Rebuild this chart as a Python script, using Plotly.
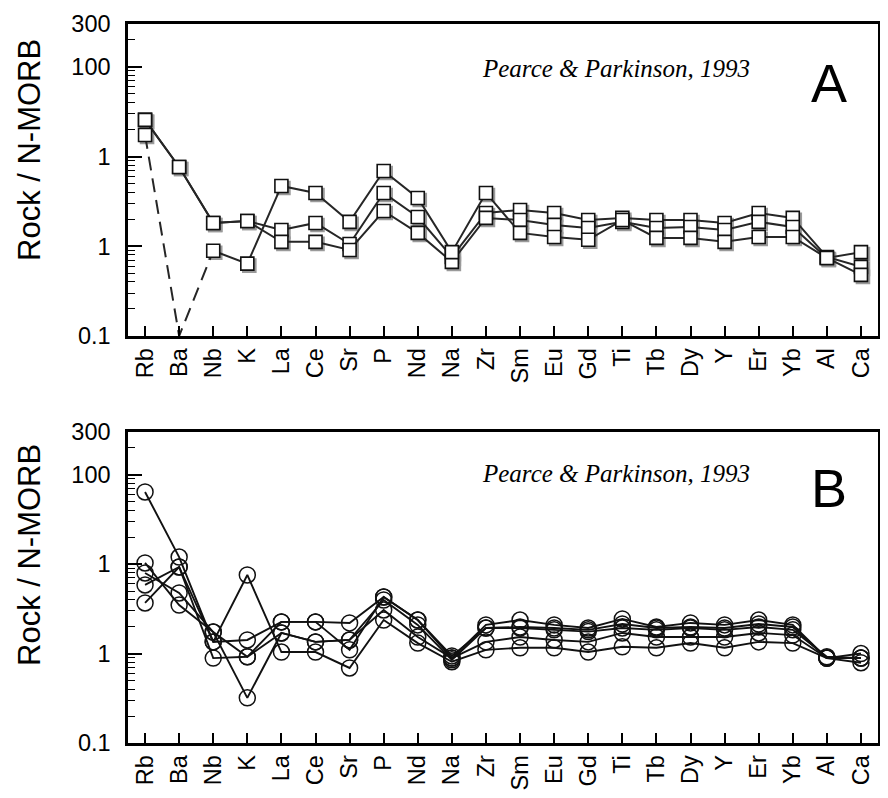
import plotly.graph_objects as go

# ---------------- data ----------------
elements = ["Rb", "Ba", "Nb", "K", "La", "Ce", "Sr", "P", "Nd", "Na", "Zr",
            "Sm", "Eu", "Gd", "Ti", "Tb", "Dy", "Y", "Er", "Yb", "Al", "Ca"]

# Panel A (squares)
a_s1 = [25.6, 7.65, 1.82, 1.91, 1.52, 1.82, 1.06, 3.93, 2.12, 0.76, 2.35,
        2.54, 2.35, 1.96, 2.07, 1.96, 1.96, 1.82, 2.35, 2.07, 0.76, 0.59]
a_s2 = [17.4, 0.1, 0.89, 0.64, 4.70, 3.93, 1.87, 6.90, 3.45, 0.86, 3.93,
        1.41, 1.27, 1.18, 1.96, 1.24, 1.24, 1.12, 1.27, 1.27, 0.74, 0.86]
a_s3 = [25.6, 7.65, 1.82, 1.91, 1.12, 1.12, 0.91, 2.47, 1.41, 0.67, 2.07,
        1.96, 1.73, 1.60, 1.87, 1.60, 1.64, 1.52, 1.87, 1.64, 0.74, 0.48]

# Panel B (circles)
b_s1 = [64.1, 12.0, 1.35, 1.42, 2.26, 2.26, 2.20, 4.29, 2.37, 0.89, 2.09,
        2.37, 2.09, 1.93, 2.44, 1.98, 2.20, 2.09, 2.37, 2.09, 0.89, 1.00]
b_s2 = [10.3, 3.49, 1.74, 0.32, 1.70, 1.35, 1.42, 3.97, 2.09, 0.85, 1.93,
        1.98, 1.93, 1.84, 2.14, 1.93, 1.98, 1.93, 2.14, 1.98, 0.89, 0.89]
b_s3 = [5.85, 9.29, 1.35, 7.56, 1.04, 1.04, 0.69, 2.37, 1.31, 0.81, 1.10,
        1.16, 1.16, 1.04, 1.19, 1.16, 1.31, 1.16, 1.35, 1.31, 0.89, 0.79]
b_s4 = [3.68, 9.29, 0.89, 0.92, 2.26, 2.26, 1.10, 4.29, 2.37, 0.94, 1.93,
        1.93, 1.84, 1.76, 1.93, 1.84, 1.93, 1.84, 1.98, 1.84, 0.92, 0.89]
b_s5 = [7.96, 4.76, 1.74, 0.92, 1.70, 1.35, 1.42, 3.07, 1.53, 0.89, 1.35,
        1.53, 1.42, 1.35, 1.70, 1.53, 1.53, 1.53, 1.70, 1.61, 0.89, 0.89]

y_tickvals = [0.1, 1, 10, 100, 300]
y_ticktext = ["0.1", "1", "1", "100", "300"]
y_minor = [0.2, 0.3, 0.4, 0.5, 0.6, 0.7, 0.8, 0.9,
           2, 3, 4, 5, 6, 7, 8, 9,
           20, 30, 40, 50, 60, 70, 80, 90, 200]

y_title = "Rock / N-MORB"
source = "Pearce & Parkinson, 1993"

# ---------------- figure ----------------
W, H = 888, 798
OFF = 8  # page body margin in the browser


def px(x):
    return (x - OFF) / W


def py(y):
    return 1 - (y - OFF) / H


fig = go.Figure()

line_a = dict(color="#262626", width=2)
mk_a = dict(symbol="square", size=13, color="white",
            line=dict(color="#111111", width=1.6))
mk_shadow = dict(symbol="square", size=13, color="#9a9a9a",
                 line=dict(color="#9a9a9a", width=1.6))
mk_b = dict(symbol="circle-open", size=16, color="#111111",
            line=dict(color="#111111", width=1.5))

# --- shadow layer for panel A squares (subplot x/y, drawn first) ---
for s in (a_s1, a_s3):
    fig.add_trace(go.Scatter(x=elements, y=s, mode="markers",
                             marker=mk_shadow, xaxis="x", yaxis="y",
                             showlegend=False, cliponaxis=False,
                             hoverinfo="skip"))
fig.add_trace(go.Scatter(x=elements[:1] + elements[2:],
                         y=a_s2[:1] + a_s2[2:], mode="markers",
                         marker=mk_shadow, xaxis="x", yaxis="y",
                         showlegend=False, cliponaxis=False,
                         hoverinfo="skip"))

# --- panel A main (subplot x2/y2) ---
for s in (a_s1, a_s3):
    fig.add_trace(go.Scatter(x=elements, y=s, mode="lines+markers",
                             line=line_a, marker=mk_a, xaxis="x2", yaxis="y2",
                             showlegend=False, cliponaxis=False))
fig.add_trace(go.Scatter(x=elements[:3], y=a_s2[:3], mode="lines",
                         line=dict(color="#262626", width=2,
                                   dash="14px,8px"),
                         xaxis="x2", yaxis="y2", showlegend=False))
fig.add_trace(go.Scatter(x=elements[2:], y=a_s2[2:], mode="lines+markers",
                         line=line_a, marker=mk_a, xaxis="x2", yaxis="y2",
                         showlegend=False, cliponaxis=False))
fig.add_trace(go.Scatter(x=elements[:1], y=a_s2[:1], mode="markers",
                         marker=mk_a, xaxis="x2", yaxis="y2",
                         showlegend=False, cliponaxis=False))

# --- panel B (subplot x3/y3) ---
for s in (b_s1, b_s2, b_s3, b_s4, b_s5):
    fig.add_trace(go.Scatter(x=elements, y=s, mode="lines+markers",
                             line=dict(color="#111111", width=1.9),
                             marker=mk_b, xaxis="x3", yaxis="y3",
                             showlegend=False, cliponaxis=False))

xdom = [px(128), px(878)]
yA = [py(336), py(24)]
yB = [py(743), py(432)]
sh = 2.0  # shadow offset in px
xdom_sh = [px(128 + sh), px(878 + sh)]
yA_sh = [py(336 + sh), py(24 + sh)]

tickfont = dict(family="Liberation Sans, Arial, Helvetica, sans-serif",
                size=23.5, color="black")


def xaxis(anchor, dom=xdom, visible=True):
    d = dict(domain=dom, anchor=anchor, type="category",
             categoryorder="array", categoryarray=elements,
             range=[-0.5, len(elements) - 0.5], automargin=False,
             showgrid=False, zeroline=False)
    if visible:
        d.update(showline=True, mirror=True, linecolor="black", linewidth=2.5,
                 ticks="inside", ticklen=10, tickwidth=1.5,
                 tickcolor="black", tickangle=-90, tickfont=tickfont)
    else:
        d.update(visible=False)
    return d


def yaxis(dom, anchor, visible=True):
    d = dict(domain=dom, anchor=anchor, type="log",
             range=[-1, 2.4771], automargin=False,
             showgrid=False, zeroline=False)
    if visible:
        d.update(tickmode="array", tickvals=y_tickvals, ticktext=y_ticktext,
                 showline=True, mirror=True, linecolor="black", linewidth=2.5,
                 ticks="inside", ticklen=14, tickwidth=1.8, tickcolor="black",
                 minor=dict(tickmode="array", tickvals=y_minor,
                            ticks="inside", ticklen=7, tickwidth=1.3,
                            tickcolor="black", showgrid=False),
                 tickfont=tickfont, ticklabelstandoff=10)
    else:
        d.update(visible=False)
    return d


fig.update_layout(
    width=W, height=H,
    margin=dict(l=0, r=0, t=0, b=0, autoexpand=False),
    paper_bgcolor="white", plot_bgcolor="rgba(0,0,0,0)",
    xaxis=xaxis("y", xdom_sh, visible=False),
    yaxis=yaxis(yA_sh, "x", visible=False),
    xaxis2=xaxis("y2"), yaxis2=yaxis(yA, "x2"),
    xaxis3=xaxis("y3"), yaxis3=yaxis(yB, "x3"),
)

title_font = dict(family="Liberation Sans, Arial, Helvetica, sans-serif",
                  size=31, color="black")
src_font = dict(family="Liberation Serif, Times New Roman, serif",
                size=25, color="black")
letter_font = dict(family="Liberation Sans, Arial, Helvetica, sans-serif",
                   size=54, color="black")

ann = []
for cy in (150, 555):
    ann.append(dict(text=y_title, x=px(29), y=py(cy), xref="paper",
                    yref="paper", textangle=-90, showarrow=False,
                    font=title_font, xanchor="center", yanchor="middle"))
for cy, letter in ((68, "A"), (473, "B")):
    ann.append(dict(text="<i>" + source + "</i>", x=px(480), y=py(cy),
                    xref="paper", yref="paper", showarrow=False,
                    font=src_font, xanchor="left", yanchor="middle"))
    ann.append(dict(text=letter, x=px(829), y=py(cy + 15),
                    xref="paper", yref="paper", showarrow=False,
                    font=letter_font, xanchor="center", yanchor="middle"))
fig.update_layout(annotations=ann)

fig.write_html("out.html")
